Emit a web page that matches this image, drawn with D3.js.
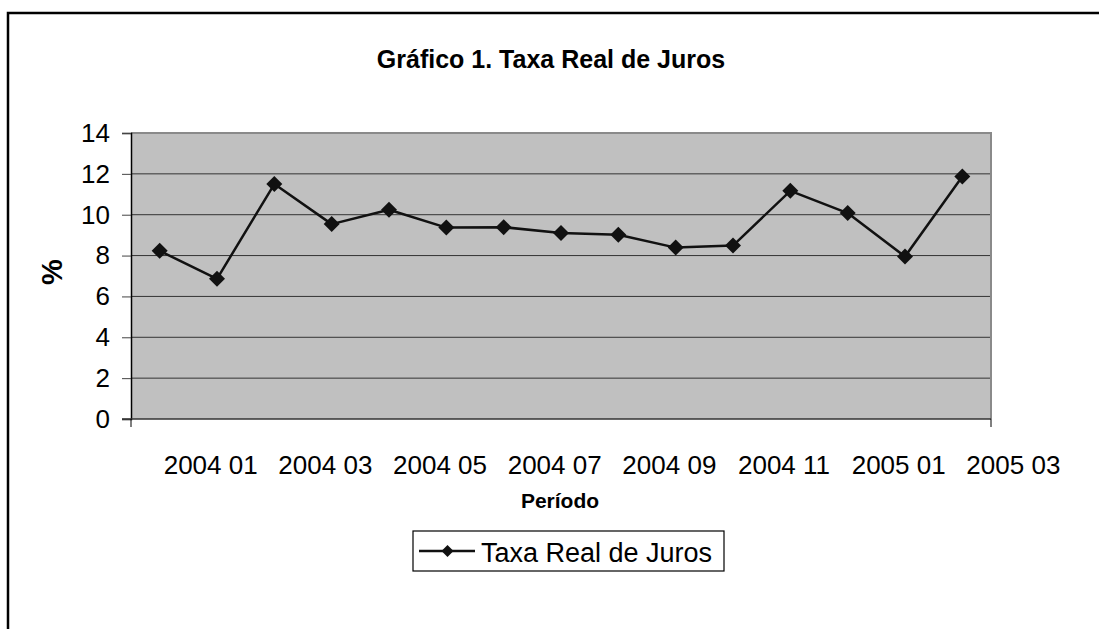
<!DOCTYPE html>
<html>
<head>
<meta charset="utf-8">
<script src="https://cdn.jsdelivr.net/npm/d3@7"></script>
<style>
  html, body { margin: 0; padding: 0; background: #fff; }
  svg { display: block; }
  text { font-family: "Liberation Sans", Arial, sans-serif; fill: #000; }
</style>
</head>
<body>
<svg id="chart" width="1099" height="629"></svg>
<script>
const categories = ["2004 01","2004 02","2004 03","2004 04","2004 05","2004 06","2004 07","2004 08",
                    "2004 09","2004 10","2004 11","2004 12","2005 01","2005 02","2005 03"];
const taxaRealDeJuros = [8.23, 6.86, 11.50, 9.54, 10.24, 9.37, 9.39, 9.10, 9.02, 8.39, 8.49, 11.17, 10.08, 7.95, 11.87];
const yTicks = [0, 2, 4, 6, 8, 10, 12, 14];
const xTickLabels = ["2004 01","2004 03","2004 05","2004 07","2004 09","2004 11","2005 01","2005 03"];
const seriesName = "Taxa Real de Juros";
const titleText = "Gráfico 1. Taxa Real de Juros";
const xAxisTitle = "Período";
const yAxisTitle = "%";

const svg = d3.select("#chart");
const plot = { left: 131, right: 991, top: 133, bottom: 419 };

// outer frame (clipped on right/bottom)
svg.append("rect").attr("x", 8).attr("y", 13).attr("width", 1200).attr("height", 700)
  .attr("fill", "none").attr("stroke", "#000").attr("stroke-width", 2.5);

const x = d3.scaleBand().domain(categories).range([plot.left, plot.right]).padding(0);
const y = d3.scaleLinear().domain([0, 14]).range([plot.bottom, plot.top]);

// plot background
svg.append("rect").attr("x", plot.left).attr("y", plot.top)
  .attr("width", plot.right - plot.left).attr("height", plot.bottom - plot.top)
  .attr("fill", "#c0c0c0");

// gridlines
svg.append("g").selectAll("line").data(yTicks.filter(d => d > 0 && d < 14)).join("line")
  .attr("x1", plot.left).attr("x2", plot.right)
  .attr("y1", d => y(d)).attr("y2", d => y(d))
  .attr("stroke", "#333").attr("stroke-width", 1);

// top and right border (gray)
svg.append("path")
  .attr("d", `M${plot.left},${plot.top}H${plot.right}V${plot.bottom}`)
  .attr("fill", "none").attr("stroke", "#8a8a8a").attr("stroke-width", 2);

// y axis
const yAxis = d3.axisLeft(y).tickValues(yTicks).tickSize(9).tickPadding(12).tickFormat(d3.format("d"));
const gy = svg.append("g").attr("transform", `translate(${plot.left},0)`).call(yAxis);
gy.select(".domain").attr("stroke", "#000").attr("stroke-width", 1.5);
gy.selectAll(".tick line").attr("stroke", "#444");
gy.selectAll(".tick text").attr("font-size", 26).attr("font-family", "Liberation Sans, Arial, sans-serif").attr("fill", "#000");

// x axis line
svg.append("line").attr("x1", plot.left - 9).attr("x2", plot.right)
  .attr("y1", plot.bottom).attr("y2", plot.bottom)
  .attr("stroke", "#333").attr("stroke-width", 1.5);
// end ticks
svg.append("g").selectAll("line").data([plot.left, plot.right]).join("line")
  .attr("x1", d => d).attr("x2", d => d)
  .attr("y1", plot.bottom).attr("y2", plot.bottom + 8)
  .attr("stroke", "#000").attr("stroke-width", 1);

// x labels
const labelOffset = x.bandwidth() * 1.39;
svg.append("g").selectAll("text").data(xTickLabels).join("text")
  .attr("x", d => x(d) + labelOffset)
  .attr("y", 474)
  .attr("text-anchor", "middle")
  .attr("font-size", 26)
  .text(d => d);

// series line
const line = d3.line().x((d, i) => x(categories[i]) + x.bandwidth() / 2).y(d => y(d));
svg.append("path").datum(taxaRealDeJuros)
  .attr("d", line).attr("fill", "none").attr("stroke", "#111").attr("stroke-width", 2.5)
  .attr("stroke-linejoin", "round");

const diamondPath = "M0,-8L8,0L0,8L-8,0Z";
svg.append("g").selectAll("path").data(taxaRealDeJuros).join("path")
  .attr("transform", (d, i) => `translate(${x(categories[i]) + x.bandwidth() / 2},${y(d)})`)
  .attr("d", diamondPath).attr("fill", "#111");

// title
svg.append("text").attr("x", 551).attr("y", 68).attr("text-anchor", "middle")
  .attr("font-size", 25).attr("font-weight", "bold").text(titleText);

// axis titles
svg.append("text").attr("x", 560).attr("y", 508).attr("text-anchor", "middle")
  .attr("font-size", 21).attr("font-weight", "bold").text(xAxisTitle);
svg.append("text").attr("transform", "translate(62,272) rotate(-90)").attr("text-anchor", "middle")
  .attr("font-size", 29).attr("font-weight", "bold").text(yAxisTitle);

// legend
const lg = svg.append("g");
lg.append("rect").attr("x", 413).attr("y", 531).attr("width", 311).attr("height", 40)
  .attr("fill", "#fff").attr("stroke", "#000").attr("stroke-width", 1.2);
lg.append("line").attr("x1", 419).attr("x2", 475).attr("y1", 551).attr("y2", 551)
  .attr("stroke", "#111").attr("stroke-width", 2.5);
lg.append("path").attr("transform", "translate(447.5,551)").attr("d", "M0,-6L6,0L0,6L-6,0Z").attr("fill", "#111");
lg.append("text").attr("x", 481).attr("y", 562).attr("font-size", 27).text(seriesName);
</script>
</body>
</html>
